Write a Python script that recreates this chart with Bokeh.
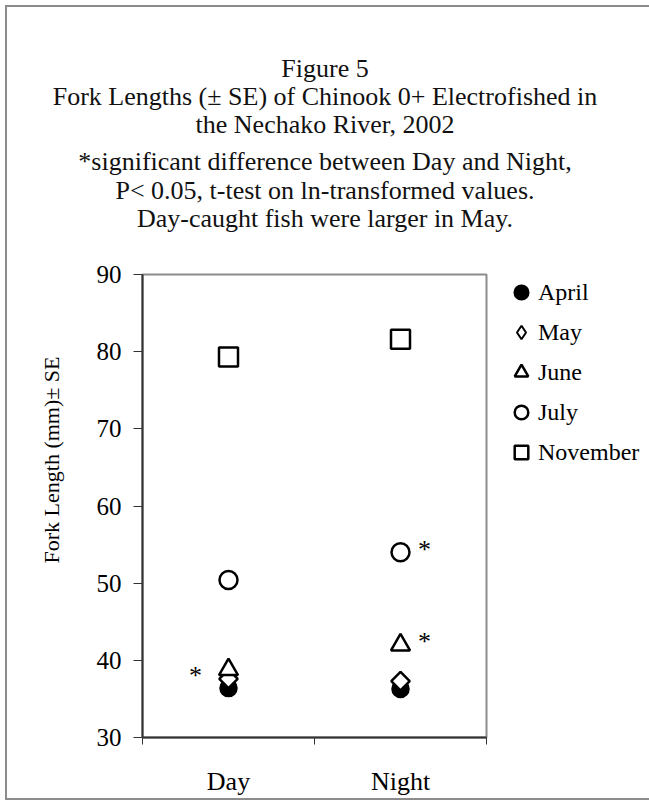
from bokeh.plotting import figure
from bokeh.layouts import column
from bokeh.models import (ColumnDataSource, FixedTicker, Legend, LegendItem,
                          Whisker, TeeHead, Title, Range1d)
from bokeh.embed import file_html
from bokeh.resources import INLINE
from bokeh.core.properties import value
import math

periods = ["Day", "Night"]
months = ["April", "May", "June", "July", "November"]
day_mean = [36.4, 37.6, 38.8, 50.4, 79.3]
night_mean = [36.3, 37.3, 42.0, 54.0, 81.6]
day_se = [0.2, 0.2, 0.3, 0.4, 0.7]
night_se = [0.2, 0.2, 0.3, 0.3, 0.3]
sig_day = ["May"]
sig_night = ["June", "July"]

y_ticks = [30, 40, 50, 60, 70, 80, 90]

heading = [
    "Figure 5",
    "Fork Lengths (\u00b1 SE) of Chinook 0+ Electrofished in",
    "the Nechako River, 2002",
    "*significant difference between Day and Night,",
    "P< 0.05, t-test on ln-transformed values.",
    "Day-caught fish were larger in May.",
]
heading_y = [61, 89, 117, 154, 183, 211]

SERIF = "Liberation Serif"
W = 635
HEAD_H = 250

# heading block: a plot of its own, not aligned to the chart frame
head = figure(width=W, height=HEAD_H, output_backend="svg", toolbar_location=None,
              x_range=Range1d(0, W), y_range=Range1d(HEAD_H, 0), min_border=0,
              x_axis_location=None, y_axis_location=None)
head.frame_align = False
head.grid.visible = False
head.outline_line_color = None
head.text(x=[W / 2] * len(heading), y=heading_y, text=heading, text_align="center",
          text_baseline="middle", text_font=value(SERIF), text_font_size="26px",
          text_color="#111111")

xpos = [i + 0.5 for i in range(len(periods))]

p = figure(frame_width=344, frame_height=463, output_backend="svg",
           toolbar_location=None, x_range=Range1d(0, 2), y_range=Range1d(30, 90),
           min_border_left=130, min_border_right=161,
           min_border_top=17, min_border_bottom=61)
p.frame_align = False
p.xgrid.visible = False
p.ygrid.visible = False
p.outline_line_color = "#8c8c8c"
p.outline_line_width = 2

# y axis
p.yaxis.ticker = FixedTicker(ticks=y_ticks)
p.yaxis.minor_tick_line_color = None
p.yaxis.major_tick_out = 9
p.yaxis.major_tick_in = 0
p.yaxis.axis_line_color = "#333333"
p.yaxis.axis_line_width = 2
p.yaxis.major_tick_line_color = "#333333"
p.yaxis.major_label_text_font = SERIF
p.yaxis.major_label_text_font_size = "25px"
p.yaxis.major_label_text_color = "black"
p.yaxis.major_label_standoff = 12

p.add_layout(Title(text="Fork Length (mm)\u00b1 SE", align="left", offset=174,
                   standoff=59, text_font=SERIF, text_font_size="22px",
                   text_font_style="normal", text_color="black"), "left")

# x axis: labels at category centers, ticks at boundaries
p.xaxis.ticker = FixedTicker(ticks=xpos, minor_ticks=list(range(len(periods) + 1)))
p.xaxis.major_label_overrides = {x: name for x, name in zip(xpos, periods)}
p.xaxis.major_tick_line_color = None
p.xaxis.major_tick_out = 0
p.xaxis.major_tick_in = 0
p.xaxis.minor_tick_out = 7
p.xaxis.minor_tick_in = 0
p.xaxis.minor_tick_line_color = "#333333"
p.xaxis.axis_line_color = "#333333"
p.xaxis.axis_line_width = 2
p.xaxis.major_label_text_font = SERIF
p.xaxis.major_label_text_font_size = "26px"
p.xaxis.major_label_text_color = "black"
p.xaxis.major_label_standoff = 22

styles = {
    "April": dict(marker="circle", size=16, fill_color="black", angle=0),
    "May": dict(marker="square", size=13, fill_color="white", angle=math.pi / 4),
    "June": dict(marker="triangle", size=19, fill_color="white", angle=0),
    "July": dict(marker="circle", size=18, fill_color="white", angle=0),
    "November": dict(marker="square", size=19, fill_color="white", angle=0),
}

items = []
for i, m in enumerate(months):
    src = ColumnDataSource(dict(x=xpos, y=[day_mean[i], night_mean[i]]))
    st = styles[m]
    swatch = None
    if m == "May":
        # the legend does not rotate markers, so give it a diamond that sits
        # hidden under the rotated square
        swatch = p.scatter("x", "y", source=src, marker="diamond", size=17,
                           fill_color="white", line_color="black", line_width=2)
    r = p.scatter("x", "y", source=src, marker=st["marker"], size=st["size"],
                  angle=st["angle"], fill_color=st["fill_color"],
                  line_color="black", line_width=2.5)
    items.append(LegendItem(label=m, renderers=[swatch or r]))

# error bars
for i, m in enumerate(months):
    ys = [day_mean[i], night_mean[i]]
    ses = [day_se[i], night_se[i]]
    src = ColumnDataSource(dict(x=xpos, lo=[a - b for a, b in zip(ys, ses)],
                                hi=[a + b for a, b in zip(ys, ses)]))
    head_size = 14 if m == "November" else 2
    w = Whisker(base="x", lower="lo", upper="hi", source=src, dimension="height",
                line_color="black", line_width=2,
                upper_head=TeeHead(size=head_size, line_color="black", line_width=2),
                lower_head=TeeHead(size=head_size, line_color="black", line_width=2))
    p.add_layout(w)

# significance asterisks
ax = [xpos[0] for m in sig_day] + [xpos[1] for m in sig_night]
ay = [day_mean[months.index(m)] for m in sig_day] + [night_mean[months.index(m)] for m in sig_night]
aoff = [-33 for m in sig_day] + [24 for m in sig_night]
p.text(x=ax, y=ay, text=["*"] * len(ax), x_offset=aoff, y_offset=-3,
       text_align="center", text_baseline="middle", text_font=value(SERIF),
       text_font_size="26px", text_color="black")

legend = Legend(items=items, location=(18, 265), padding=0, margin=0,
                glyph_width=34, glyph_height=40, label_height=40, spacing=0,
                label_standoff=0, border_line_color=None, background_fill_alpha=0,
                label_text_font=SERIF, label_text_font_size="24px",
                label_text_color="black")
p.add_layout(legend, "right")

layout = column(head, p, spacing=0)
layout.styles = {"border": "2px solid #8c8c8c", "margin": "5px"}

open("out.html", "w").write(file_html(layout, INLINE))
